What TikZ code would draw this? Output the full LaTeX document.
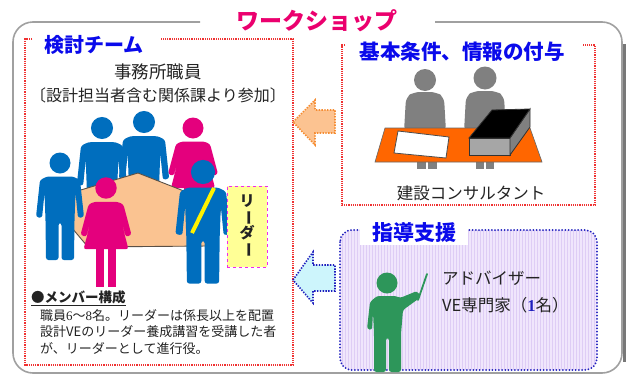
\documentclass[tikz,border=0pt]{standalone}
\usepackage{fontspec}
\setmainfont{Noto Sans CJK JP}
\newfontfamily\numfont{Liberation Serif}
\definecolor{framegray}{RGB}{160,160,160}
\definecolor{shadowgray}{RGB}{120,120,120}
\definecolor{wspink}{RGB}{235,0,110}
\definecolor{headblue}{RGB}{10,10,235}
\definecolor{txtgray}{RGB}{35,35,35}
\definecolor{reddot}{RGB}{240,50,50}
\definecolor{navydot}{RGB}{30,30,190}
\definecolor{manblue}{RGB}{0,110,190}
\definecolor{womanpink}{RGB}{228,0,125}
\definecolor{tabletan}{RGB}{250,195,145}
\definecolor{tableedge}{RGB}{90,80,70}
\definecolor{leadyellow}{RGB}{255,255,150}
\definecolor{leadmag}{RGB}{240,40,240}
\definecolor{consgray}{RGB}{128,128,128}
\definecolor{deskorange}{RGB}{255,102,0}
\definecolor{teachgreen}{RGB}{45,150,90}
\definecolor{lavender}{RGB}{240,230,252}
\definecolor{lavgrid}{RGB}{222,205,245}
\definecolor{arroworange}{RGB}{252,195,145}
\definecolor{arrowedge}{RGB}{245,140,50}
\definecolor{arrowcyan}{RGB}{205,245,252}
\begin{document}
\begin{tikzpicture}[x=1pt,y=-1pt,
  reddots/.style={draw=reddot, line width=1.3pt, dash pattern=on 1.2pt off 1pt},
  bluedots/.style={draw=navydot, line width=2pt, line cap=round, dash pattern=on 0pt off 3.2pt},
  heading/.style={font=\fontsize{20}{22}\selectfont\bfseries, text=headblue, inner sep=0pt},
  bodytext/.style={font=\fontsize{16}{18}\selectfont, text=txtgray, inner sep=0pt},
  man/.pic={
    \fill (0,0) circle (10.5);
    \fill[rounded corners=2.5pt] (-13,13.5) -- (13,13.5) -- (20,17) -- (24,54) -- (18,55)
      -- (15.5,30) -- (14.5,57) -- (14,97) -- (1.5,97) -- (1.5,60) -- (-1.5,60)
      -- (-1.5,97) -- (-14,97) -- (-14.5,57) -- (-15.5,30) -- (-18,55) -- (-24,54)
      -- (-20,17) -- cycle;
  },
  woman/.pic={
    \fill (0,0) circle (10.5);
    \fill[rounded corners=2.5pt] (-11,13.5) -- (11,13.5) -- (17,16) -- (25,46) -- (19.5,48)
      -- (13.5,27) -- (22,60) -- (-22,60) -- (-13.5,27) -- (-19.5,48) -- (-25,46)
      -- (-17,16) -- cycle;
    \fill (-9.5,59) rectangle (-2,97);
    \fill (2,59) rectangle (9.5,97);
  }]
\useasboundingbox (0,0) rectangle (626,378);
\fill[white] (0,0) rectangle (626,378);

% outer workshop frame with its shadow on the right
\fill[shadowgray] (622.5,44) rectangle (626,362);
\draw[framegray, line width=1.6pt, rounded corners=20pt]
  (200,22) -- (13,22) -- (13,373) -- (622,373) -- (622,22) -- (435,22);
\node (ws) at (317,21) {\fontsize{23}{25}\selectfont\bfseries\color{wspink}ワークショップ};

% ---------- study team ----------
\draw[reddots] (32,39) -- (25,39) -- (25,365) -- (293,365) -- (293,39) -- (160,39);
\node[heading] (team) at (94,45) {検討チーム};
\node[bodytext, font=\fontsize{17.5}{19}\selectfont] (staff) at (158,72) {事務所職員};
\node[bodytext, font=\fontsize{16}{18}\selectfont] (dept) at (158,95) {〔設計担当者含む関係課より参加〕};

% people behind the table
\pic[fill=manblue, scale=1.05] (backA) at (102,128) {man};
\pic[fill=manblue, scale=1.05] (backB) at (144,122) {man};
\pic[fill=womanpink, scale=1.0] (backC) at (193,128) {woman};
% table
\filldraw[fill=tabletan, draw=tableedge, line width=0.9pt]
  (74,192) -- (138,173) -- (222,206) -- (208,246) -- (88,247) -- (72,228) -- cycle;
% people in front
\pic[fill=manblue] (frontA) at (60,163) {man};
\pic[fill=womanpink, scale=1.02] (frontB) at (106,188) {woman};
\pic[fill=manblue, scale=1.15] (leadp) at (203,172) {man};
\draw[yellow, line width=4pt] (214,188) -- (192,233);

\node[draw=leadmag, dashed, line width=0.9pt, fill=leadyellow, minimum width=40pt,
  minimum height=81pt, inner sep=0pt, align=center,
  font=\fontsize{15}{16}\selectfont\bfseries, text=txtgray] (leader) at (247,226.5)
  {リ\\[-1pt]\rotatebox[origin=c]{-90}{ー}\\[-1pt]ダ\\[-1pt]\rotatebox[origin=c]{-90}{ー}};

\node[anchor=west, inner sep=0pt, font=\fontsize{13.5}{15}\selectfont\bfseries, text=txtgray]
  (members) at (31,298) {\underline{●メンバー構成}};
\node[anchor=north west, inner sep=0pt, align=left, text=txtgray,
  font=\fontsize{13}{16.6}\selectfont] (memtext) at (40,309)
  {職員{\numfont 6}〜{\numfont 8}名。リーダーは係長以上を配置\\
   設計VEのリーダー養成講習を受講した者\\
   が、リーダーとして進行役。};

% ---------- consultant ----------
\draw[reddots] (345,45) -- (342,45) -- (342,205) -- (595,205) -- (595,45) -- (583,45);
\node[heading, font=\fontsize{20.5}{22}\selectfont\bfseries] (basic) at (462,52) {基本条件、情報の付与};
% consultants
\fill[consgray] (425,80) circle (11);
\fill[consgray] (485,78) circle (11.5);
\fill[consgray, rounded corners=6pt] (404,132) -- (406,97) -- (414,92) -- (436,92) -- (444,97) -- (446,132) -- cycle;
\fill[consgray, rounded corners=6pt] (464,132) -- (466,96) -- (474,91) -- (496,91) -- (504,96) -- (506,132) -- cycle;
\fill[consgray] (417,160) rectangle (426,169);
\fill[consgray] (428,160) rectangle (437,169);
\fill[consgray] (476,160) rectangle (484,169);
\fill[consgray] (486,160) rectangle (494,169);
% desk, drawing sheet and binder
\filldraw[fill=deskorange, draw=black!60, line width=0.6pt] (385,128) -- (530,128) -- (542,162) -- (375,162) -- cycle;
\filldraw[fill=white, draw=black!70, line width=0.8pt] (398,131) -- (449,137) -- (446,158) -- (394,153) -- cycle;
\filldraw[fill=black!35, draw=black!80, line width=0.8pt] (469,138) rectangle (510,155);
\filldraw[fill=black!50, draw=black!80, line width=0.8pt] (510,138) -- (530,109) -- (530,127) -- (510,155) -- cycle;
\filldraw[fill=black, draw=black!80, line width=0.8pt] (469,138) -- (492,110) -- (530,109) -- (510,138) -- cycle;
\node[bodytext, font=\fontsize{16.5}{18}\selectfont] (cons) at (471,193) {建設コンサルタント};

% ---------- advisor ----------
\begin{scope}
  \clip[rounded corners=12pt] (340,230) rectangle (597,370);
  \fill[lavender] (340,230) rectangle (597,370);
  \draw[lavgrid, line width=0.4pt, step=3] (339,229) grid (598,371);
\end{scope}
\draw[bluedots, rounded corners=12pt] (340,230) rectangle (597,370);
\node[heading, fill=white, inner xsep=12pt, minimum height=24pt,
  font=\fontsize{21}{22}\selectfont\bfseries] (guide) at (414,233) {指導支援};
% teacher with pointer
\fill[teachgreen] (387,283) circle (10.5);
\fill[teachgreen, rounded corners=2.5pt] (377,296) -- (396,296) -- (400,298) -- (417,291)
  -- (421,297) -- (403,310) -- (401,334) -- (401,372) -- (389,372) -- (389,338)
  -- (386,338) -- (386,372) -- (374,372) -- (374,334) -- (373,312) -- (372,330)
  -- (367,329) -- (370,302) -- cycle;
\draw[teachgreen, line width=1.8pt, line cap=round] (418,300) -- (427,274);
\node[bodytext, anchor=west, font=\fontsize{16.5}{18}\selectfont] (adv) at (442,278) {アドバイザー};
\node[bodytext, anchor=west, font=\fontsize{16.5}{18}\selectfont] (expert) at (442,305)
  {VE専門家（{\numfont\bfseries\color{navydot}1}名）};

% ---------- arrows feeding the team ----------
\filldraw[fill=arroworange, draw=arrowedge, line width=1.6pt, dash pattern=on 1.4pt off 1.4pt]
  (293,122) -- (315,100) -- (315,110) -- (335,110) -- (335,133) -- (315,133) -- (315,145) -- cycle;
\filldraw[fill=arrowcyan, draw=navydot, line width=1.6pt, dash pattern=on 1.4pt off 1.4pt]
  (293,280) -- (313,252) -- (313,265) -- (335,265) -- (335,291) -- (313,291) -- (313,303) -- cycle;
\end{tikzpicture}
\end{document}
